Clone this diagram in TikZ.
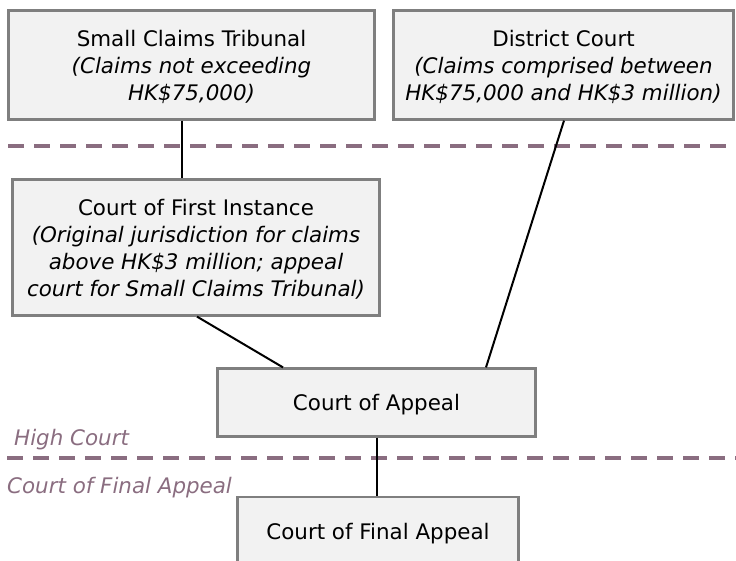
\documentclass[tikz,border=0pt]{standalone}
\usepackage{fontspec}
\setmainfont{DejaVu Sans}
\definecolor{boxgray}{HTML}{7F7F7F}
\definecolor{boxfill}{HTML}{F2F2F2}
\definecolor{divcol}{HTML}{8A6D80}
\begin{document}
\begin{tikzpicture}[x=1pt,y=-1pt,
  court/.style={draw=boxgray, line width=2.2pt, fill=boxfill, inner sep=0pt, align=center, text depth=0pt, font=\fontsize{21.4}{27}\selectfont},
  link/.style={line width=2pt, draw=black},
  divider/.style={line width=4pt, draw=divcol, dash pattern=on 16pt off 10pt},
  tier/.style={anchor=base west, text=divcol, font=\fontsize{21.4}{27}\selectfont\itshape, inner sep=0pt}]
\useasboundingbox (0,0) rectangle (736,561);
\clip (0,0) rectangle (736,561);
% dividers
\coordinate (d1a) at (8,146);
\coordinate (d1b) at (740,146);
\coordinate (d2a) at (7,458);
\coordinate (d2b) at (740,458);
\draw[divider] (d1a) -- (d1b);
\draw[divider] (d2a) -- (d2b);
% tier labels
\node[tier] (hc) at (14,445) {High Court};
\node[tier] (cfal) at (7,493) {Court of Final Appeal};
% courts
\node[court, minimum width=366pt, minimum height=109pt] (sct) at (191.5,65)
  {Small Claims Tribunal\\\textit{(Claims not exceeding}\\\textit{HK\$75,000)}};
\node[court, minimum width=340pt, minimum height=109pt] (dc) at (563.5,65)
  {District Court\\\textit{(Claims comprised between}\\\textit{HK\$75,000 and HK\$3 million)}};
\node[court, minimum width=367pt, minimum height=136pt] (cfi) at (196,247.5)
  {Court of First Instance\\\textit{(Original jurisdiction for claims}\\\textit{above HK\$3 million; appeal}\\\textit{court for Small Claims Tribunal)}};
\node[court, minimum width=318pt, minimum height=68pt] (coa) at (376.5,402.5)
  {Court of Appeal};
\node[court, minimum width=281pt, minimum height=68pt] (cfa) at (378,531)
  {Court of Final Appeal};
% connectors
\draw[link] ([xshift=-9.5pt]sct.south) -- ([xshift=-14pt]cfi.north);
\draw[link] ([xshift=0.5pt]dc.south) -- ([xshift=109.5pt]coa.north);
\draw[link] ([xshift=1pt]cfi.south) -- ([xshift=-93.5pt]coa.north);
\draw[link] ([xshift=0.5pt]coa.south) -- ([xshift=-1pt]cfa.north);
\end{tikzpicture}
\end{document}
